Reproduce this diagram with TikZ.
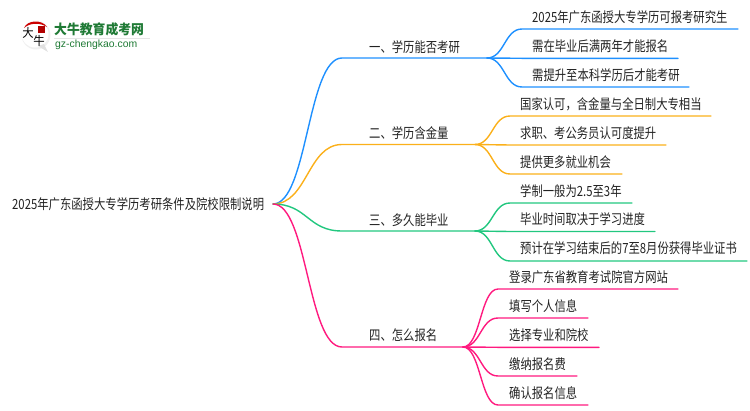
\documentclass[tikz,border=0pt]{standalone}
\usepackage{fontspec}
\setmainfont{Noto Sans CJK SC}[FakeStretch=0.81]
\newfontfamily\logofont{Noto Sans CJK SC}[FakeStretch=0.95]
\newfontfamily\latinlogo{Liberation Sans}
\definecolor{cblue}{HTML}{1E90FF}
\definecolor{corange}{HTML}{FBB01A}
\definecolor{cgreen}{HTML}{22C77F}
\definecolor{cpink}{HTML}{FF1A7F}
\definecolor{txt}{HTML}{222222}
\definecolor{logog}{HTML}{1F7A35}
\tikzset{
  lbl/.style={anchor=west,inner sep=0pt,font=\fontsize{14pt}{15pt}\selectfont,text=txt},
  conn/.style={line width=1.4pt,line cap=round},
  pt/.style={inner sep=0pt,minimum size=0pt}
}
% #1 from, #2 corner, #3 line end, #4 colour
\newcommand{\flowline}[4]{%
  \draw[conn,#4] (#1) .. controls ($(#1)!.5!(#1-|#2)$) and ($(#2)!.5!(#2-|#1)$) .. (#2) -- (#3);}
\usetikzlibrary{calc}
\begin{document}
\begin{tikzpicture}[x=1pt,y=-1pt]
\useasboundingbox (0,0) rectangle (750,410);
% logo
\fill[black!6] (36,35) circle (14.5);
\fill[white] (35,34) circle (13.5);
\fill[black!12] (38,46) -- (48,52) -- (44,44) -- cycle;
\fill[red!80!black] (24,28) .. controls (27,20) and (42,19) .. (47,27) .. controls (40,22.5) and (30,22.5) .. (24,28) -- cycle;
\fill[red!70!black] (38,26) rectangle (45,33);
\node[pt,font=\fontsize{12pt}{12pt}\logofont,text=black] (logoa) at (28,33) {大};
\node[pt,font=\fontsize{12pt}{12pt}\logofont,text=black] (logob) at (39,41) {牛};
\node[anchor=west,inner sep=0pt,font=\fontsize{13.5pt}{14pt}\logofont\bfseries,text=logog] (logot) at (54,29.5) {大牛教育成考网};
\fill[black!10] (54,38) rectangle (150,39);
\node[anchor=west,inner sep=0pt,font=\fontsize{10.4pt}{11pt}\latinlogo,text=logog] (logou) at (55,44.5) {gz-chengkao.com};
% root
\node[lbl] (root) at (12,204) {2025年广东函授大专学历考研条件及院校限制说明};
\coordinate (r) at (273,204);
% branch 1
\node[lbl] (b1) at (369,47) {一、学历能否考研};
\coordinate (b1s) at (342,58); \coordinate (b1e) at (487,58);
\flowline{r}{b1s}{b1e}{cblue}
\node[lbl] (l11) at (532,17) {2025年广东函授大专学历可报考研究生};
\coordinate (l11s) at (522,29); \coordinate (l11e) at (738,29);
\flowline{b1e}{l11s}{l11e}{cblue}
\node[lbl] (l12) at (532,46) {需在毕业后满两年才能报名};
\coordinate (l12s) at (522,58.3); \coordinate (l12e) at (678,58.3);
\flowline{b1e}{l12s}{l12e}{cblue}
\node[lbl] (l13) at (532,75) {需提升至本科学历后才能考研};
\coordinate (l13s) at (522,87); \coordinate (l13e) at (689,87);
\flowline{b1e}{l13s}{l13e}{cblue}
% branch 2
\node[lbl] (b2) at (369,133) {二、学历含金量};
\coordinate (b2s) at (342,144.5); \coordinate (b2e) at (475,144.5);
\flowline{r}{b2s}{b2e}{corange}
\node[lbl] (l21) at (520,104) {国家认可，含金量与全日制大专相当};
\coordinate (l21s) at (510,116); \coordinate (l21e) at (711,116);
\flowline{b2e}{l21s}{l21e}{corange}
\node[lbl] (l22) at (520,133) {求职、考公务员认可度提升};
\coordinate (l22s) at (510,145); \coordinate (l22e) at (666,145);
\flowline{b2e}{l22s}{l22e}{corange}
\node[lbl] (l23) at (520,162) {提供更多就业机会};
\coordinate (l23s) at (510,174); \coordinate (l23e) at (622,174);
\flowline{b2e}{l23s}{l23e}{corange}
% branch 3
\node[lbl] (b3) at (369,220) {三、多久能毕业};
\coordinate (b3s) at (342,231); \coordinate (b3e) at (475,231);
\flowline{r}{b3s}{b3e}{cgreen}
\node[lbl] (l31) at (520,191) {学制一般为2.5至3年};
\coordinate (l31s) at (510,203); \coordinate (l31e) at (632,203);
\flowline{b3e}{l31s}{l31e}{cgreen}
\node[lbl] (l32) at (520,219) {毕业时间取决于学习进度};
\coordinate (l32s) at (510,231.5); \coordinate (l32e) at (655,231.5);
\flowline{b3e}{l32s}{l32e}{cgreen}
\node[lbl] (l33) at (520,248) {预计在学习结束后的7至8月份获得毕业证书};
\coordinate (l33s) at (510,261); \coordinate (l33e) at (747,261);
\flowline{b3e}{l33s}{l33e}{cgreen}
% branch 4
\node[lbl] (b4) at (369,335) {四、怎么报名};
\coordinate (b4s) at (342,347); \coordinate (b4e) at (463,347);
\flowline{r}{b4s}{b4e}{cpink}
\node[lbl] (l41) at (509,277) {登录广东省教育考试院官方网站};
\coordinate (l41s) at (498,289); \coordinate (l41e) at (678,289);
\flowline{b4e}{l41s}{l41e}{cpink}
\node[lbl] (l42) at (509,306) {填写个人信息};
\coordinate (l42s) at (498,318); \coordinate (l42e) at (588,318);
\flowline{b4e}{l42s}{l42e}{cpink}
\node[lbl] (l43) at (509,335) {选择专业和院校};
\coordinate (l43s) at (498,347.3); \coordinate (l43e) at (599,347.3);
\flowline{b4e}{l43s}{l43e}{cpink}
\node[lbl] (l44) at (509,364) {缴纳报名费};
\coordinate (l44s) at (498,376); \coordinate (l44e) at (577,376);
\flowline{b4e}{l44s}{l44e}{cpink}
\node[lbl] (l45) at (509,393) {确认报名信息};
\coordinate (l45s) at (498,405); \coordinate (l45e) at (588,405);
\flowline{b4e}{l45s}{l45e}{cpink}
\end{tikzpicture}
\end{document}
